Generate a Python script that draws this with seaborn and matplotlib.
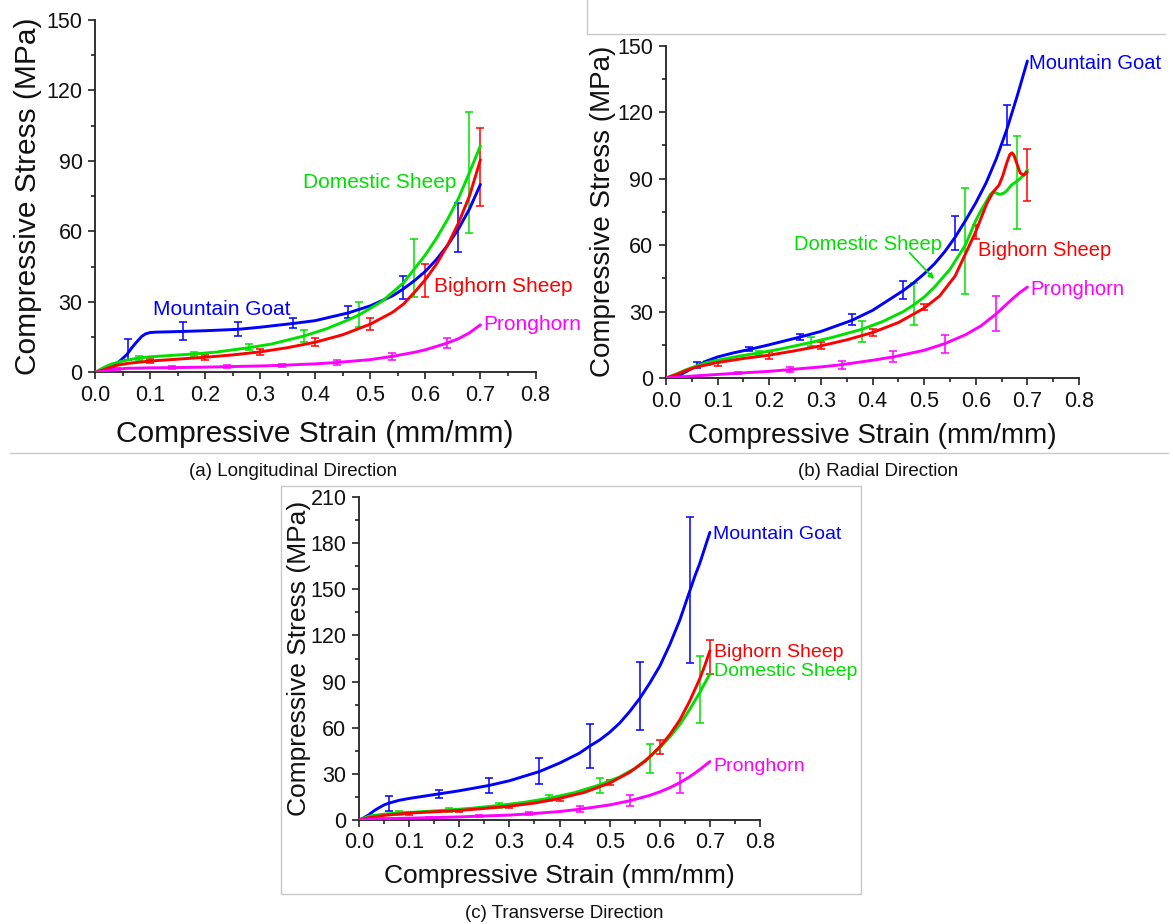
import numpy as np
import pandas as pd
import matplotlib
matplotlib.use("Agg")
import matplotlib.pyplot as plt
from matplotlib.lines import Line2D
from matplotlib.ticker import MultipleLocator, FormatStrFormatter
import seaborn as sns

sns.set_theme(style="ticks")
plt.rcParams['font.family'] = ['Liberation Sans', 'DejaVu Sans']
plt.rcParams['text.color'] = '#111111'
plt.rcParams['axes.labelcolor'] = '#111111'
plt.rcParams['xtick.color'] = '#111111'
plt.rcParams['ytick.color'] = '#111111'

species = ["Mountain Goat", "Domestic Sheep", "Bighorn Sheep", "Pronghorn"]
colors = {"Mountain Goat": "#0000FF", "Domestic Sheep": "#00E000",
          "Bighorn Sheep": "#FF0000", "Pronghorn": "#FF00FF"}

# ---------------- (a) Longitudinal ----------------
a_mg_x = [0.0, 0.015, 0.025, 0.036, 0.047, 0.058, 0.067, 0.076, 0.085, 0.092, 0.1, 0.11, 0.13, 0.16, 0.2, 0.26, 0.3, 0.36, 0.4, 0.46, 0.5, 0.54, 0.56, 0.58, 0.6, 0.62, 0.64, 0.66, 0.68, 0.70]
a_mg_y = [0.0, 0.0, 0.8, 3.1, 5.2, 7.6, 10.5, 13.0, 15.3, 16.4, 16.9, 17.1, 17.2, 17.4, 17.7, 18.3, 19.2, 20.8, 22.0, 25.3, 28.3, 32.5, 35.5, 39.0, 43.0, 48.0, 54.0, 61.0, 69.5, 80.0]
a_ds_x = [0.0, 0.01, 0.02, 0.03, 0.045, 0.06, 0.08, 0.1, 0.14, 0.18, 0.22, 0.28, 0.32, 0.38, 0.42, 0.46, 0.48, 0.52, 0.56, 0.58, 0.6, 0.62, 0.64, 0.66, 0.68, 0.70]
a_ds_y = [0.0, 1.3, 2.5, 3.5, 4.5, 5.3, 6.1, 6.6, 7.2, 7.8, 8.6, 10.5, 12.0, 15.5, 18.5, 22.3, 24.5, 30.0, 38.0, 44.0, 50.0, 57.0, 65.0, 74.0, 85.0, 96.5]
a_bs_x = [0.0, 0.01, 0.02, 0.03, 0.04, 0.06, 0.08, 0.1, 0.15, 0.2, 0.25, 0.3, 0.35, 0.4, 0.45, 0.5, 0.54, 0.56, 0.58, 0.6, 0.62, 0.64, 0.66, 0.68, 0.70]
a_bs_y = [0.0, 0.6, 1.5, 2.3, 3.0, 3.8, 4.3, 4.8, 5.6, 6.4, 7.4, 8.7, 10.5, 12.8, 16.0, 20.5, 25.5, 29.0, 34.0, 39.5, 46.0, 54.0, 63.5, 75.0, 90.5]
a_ph_x = [0.0, 0.02, 0.04, 0.06, 0.1, 0.14, 0.2, 0.24, 0.3, 0.34, 0.4, 0.44, 0.5, 0.54, 0.58, 0.6, 0.62, 0.64, 0.66, 0.68, 0.70]
a_ph_y = [0.0, 0.6, 1.4, 1.7, 1.9, 2.0, 2.2, 2.4, 2.7, 3.0, 3.6, 4.2, 5.4, 6.8, 8.5, 9.6, 11.0, 12.5, 14.3, 16.8, 20.2]

a_mg_ex = [0.06, 0.16, 0.26, 0.36, 0.46, 0.56, 0.66]
a_mg_ey = [9.6, 17.5, 18.4, 21.0, 25.6, 36.0, 61.5]
a_mg_ee = [4.5, 3.9, 2.9, 2.3, 2.6, 4.9, 10.4]
a_ds_ex = [0.08, 0.18, 0.28, 0.38, 0.48, 0.58, 0.68]
a_ds_ey = [6.1, 7.8, 10.8, 15.6, 24.7, 44.4, 85.0]
a_ds_ee = [0.8, 0.8, 1.3, 2.5, 5.2, 12.2, 25.8]
a_bs_ex = [0.1, 0.2, 0.3, 0.4, 0.5, 0.6, 0.7]
a_bs_ey = [4.8, 6.4, 8.7, 12.8, 20.5, 39.0, 87.4]
a_bs_ee = [0.9, 1.0, 1.2, 1.8, 2.5, 6.9, 16.6]
a_ph_ex = [0.04, 0.14, 0.24, 0.34, 0.44, 0.54, 0.64]
a_ph_ey = [1.5, 2.0, 2.3, 3.0, 4.2, 6.8, 12.4]
a_ph_ee = [0.5, 0.6, 0.6, 0.7, 1.0, 1.4, 2.0]

# ---------------- (b) Radial ----------------
b_mg_x = [0.0, 0.02, 0.04, 0.06, 0.08, 0.1, 0.13, 0.16, 0.2, 0.26, 0.3, 0.36, 0.4, 0.46, 0.48, 0.5, 0.52, 0.54, 0.56, 0.58, 0.6, 0.62, 0.64, 0.66, 0.68, 0.70]
b_mg_y = [0.0, 0.5, 3.0, 5.5, 7.8, 9.5, 11.3, 12.8, 15.0, 18.5, 21.0, 26.0, 30.5, 39.5, 43.0, 47.0, 51.5, 57.0, 63.5, 71.0, 79.0, 88.0, 99.0, 112.0, 127.0, 143.0]
b_ds_x = [0.0, 0.02, 0.04, 0.06, 0.08, 0.1, 0.14, 0.18, 0.22, 0.28, 0.32, 0.38, 0.42, 0.46, 0.48, 0.5, 0.52, 0.55, 0.58, 0.6, 0.61, 0.62, 0.628, 0.634, 0.641, 0.647, 0.655, 0.66, 0.669, 0.678, 0.686, 0.693, 0.70]
b_ds_y = [0.0, 1.8, 3.8, 5.5, 7.0, 8.0, 9.8, 11.3, 13.0, 16.0, 18.2, 22.0, 25.5, 30.0, 33.0, 36.5, 41.0, 49.0, 60.0, 71.0, 75.5, 79.5, 82.8, 84.0, 83.3, 82.8, 83.5, 84.5, 87.0, 88.5, 90.0, 91.5, 94.0]
b_bs_x = [0.0, 0.02, 0.04, 0.06, 0.08, 0.1, 0.15, 0.2, 0.25, 0.3, 0.35, 0.4, 0.45, 0.5, 0.53, 0.56, 0.58, 0.6, 0.61, 0.622, 0.634, 0.645, 0.652, 0.66, 0.666, 0.67, 0.674, 0.68, 0.686, 0.693, 0.70]
b_bs_y = [0.0, 1.5, 3.5, 5.0, 6.0, 7.0, 8.8, 10.3, 12.3, 14.5, 17.2, 20.5, 25.0, 31.5, 37.0, 46.0, 56.0, 66.0, 72.0, 79.0, 84.0, 87.0, 91.0, 97.0, 100.8, 101.6, 100.5, 96.5, 92.5, 91.5, 93.0]
b_ph_x = [0.0, 0.02, 0.06, 0.1, 0.14, 0.2, 0.24, 0.3, 0.34, 0.4, 0.44, 0.5, 0.54, 0.58, 0.61, 0.64, 0.67, 0.685, 0.70]
b_ph_y = [0.0, 0.4, 1.0, 1.6, 2.2, 3.0, 3.8, 5.0, 6.0, 8.0, 9.5, 12.5, 15.5, 19.5, 23.5, 29.0, 35.5, 38.5, 41.0]

b_mg_ex = [0.06, 0.16, 0.26, 0.36, 0.46, 0.56, 0.66]
b_mg_ey = [5.8, 13.0, 18.5, 26.4, 39.7, 65.4, 114.0]
b_mg_ee = [1.2, 0.8, 1.5, 2.5, 4.2, 7.8, 9.0]
b_ds_ex = [0.08, 0.18, 0.28, 0.38, 0.48, 0.58, 0.68]
b_ds_ey = [6.8, 11.3, 16.3, 21.0, 33.3, 61.8, 88.2]
b_ds_ee = [1.0, 1.0, 2.0, 4.7, 9.6, 23.7, 21.0]
b_bs_ex = [0.1, 0.2, 0.3, 0.4, 0.5, 0.6, 0.7]
b_bs_ey = [6.8, 10.2, 14.6, 20.5, 32.0, 65.8, 91.5]
b_bs_ee = [1.5, 1.5, 1.5, 1.5, 1.5, 3.3, 11.7]
b_ph_ex = [0.14, 0.24, 0.34, 0.44, 0.54, 0.64]
b_ph_ey = [2.2, 3.9, 6.0, 9.5, 15.5, 29.0]
b_ph_ee = [0.4, 1.0, 1.8, 2.5, 4.0, 8.0]

# ---------------- (c) Transverse ----------------
c_mg_x = [0.0, 0.01, 0.02, 0.03, 0.04, 0.05, 0.06, 0.08, 0.1, 0.13, 0.16, 0.2, 0.26, 0.3, 0.36, 0.4, 0.44, 0.46, 0.48, 0.5, 0.52, 0.54, 0.56, 0.58, 0.6, 0.62, 0.64, 0.66, 0.67, 0.68, 0.69, 0.70]
c_mg_y = [0.0, 1.5, 3.5, 6.0, 8.0, 9.8, 11.0, 12.8, 14.0, 15.5, 17.0, 19.0, 22.5, 25.5, 31.5, 37.0, 43.5, 48.0, 52.0, 57.0, 63.0, 70.5, 79.0, 89.0, 100.0, 114.0, 130.0, 149.0, 158.5, 167.0, 177.0, 187.0]
c_bs_x = [0.0, 0.02, 0.05, 0.1, 0.15, 0.2, 0.25, 0.3, 0.35, 0.4, 0.45, 0.5, 0.54, 0.57, 0.6, 0.62, 0.64, 0.66, 0.68, 0.69, 0.70]
c_bs_y = [0.0, 1.5, 3.0, 4.5, 5.3, 6.2, 7.5, 9.0, 11.0, 14.0, 18.0, 24.0, 31.0, 38.0, 47.5, 55.5, 65.0, 77.5, 92.0, 100.5, 110.0]
c_ds_x = [0.0, 0.02, 0.05, 0.08, 0.12, 0.18, 0.23, 0.28, 0.33, 0.38, 0.43, 0.48, 0.52, 0.55, 0.58, 0.6, 0.62, 0.64, 0.66, 0.68, 0.70]
c_ds_y = [0.0, 2.5, 3.8, 4.6, 5.3, 6.5, 7.8, 9.5, 11.5, 14.2, 17.8, 22.8, 28.0, 33.5, 41.0, 47.0, 54.0, 62.0, 72.0, 83.0, 95.0]
c_ph_x = [0.0, 0.04, 0.1, 0.14, 0.2, 0.24, 0.3, 0.34, 0.4, 0.44, 0.5, 0.54, 0.58, 0.6, 0.62, 0.64, 0.66, 0.68, 0.70]
c_ph_y = [0.0, 0.8, 1.2, 1.5, 2.0, 2.5, 3.2, 4.0, 5.5, 7.0, 9.8, 12.5, 16.0, 18.3, 21.0, 24.3, 28.2, 32.8, 38.0]

c_mg_ex = [0.06, 0.16, 0.26, 0.36, 0.46, 0.56, 0.66]
c_mg_ey = [10.6, 17.0, 22.5, 32.0, 48.3, 80.7, 149.6]
c_mg_ee = [5.0, 2.7, 5.0, 8.3, 14.3, 22.0, 47.5]
c_ds_ex = [0.08, 0.18, 0.28, 0.38, 0.48, 0.58, 0.68]
c_ds_ey = [4.5, 6.5, 9.5, 14.5, 22.5, 40.0, 84.8]
c_ds_ee = [1.5, 1.5, 1.5, 2.0, 4.7, 9.7, 21.8]
c_bs_ex = [0.1, 0.2, 0.3, 0.4, 0.5, 0.6, 0.7]
c_bs_ey = [4.5, 6.0, 9.0, 14.0, 24.5, 47.3, 106.2]
c_bs_ee = [1.0, 1.0, 1.0, 1.5, 1.5, 4.6, 11.1]
c_ph_ex = [0.14, 0.24, 0.34, 0.44, 0.54, 0.64]
c_ph_ey = [1.5, 2.5, 4.0, 7.0, 12.5, 24.3]
c_ph_ee = [0.4, 0.5, 1.0, 2.0, 3.5, 6.5]

x_label = "Compressive Strain (mm/mm)"
y_label = "Compressive Stress (MPa)"
captions = ["(a) Longitudinal Direction", "(b) Radial Direction", "(c) Transverse Direction"]

W, H = 1173, 924
fig = plt.figure(figsize=(W / 100, H / 100), dpi=100)


def px_axes(x0, x1, y_top, y_bot):
    return fig.add_axes([x0 / W, 1 - y_bot / H, (x1 - x0) / W, (y_bot - y_top) / H])


panels = [
    dict(box=(95, 535.5, 20, 372.3), ymax=150, ystep=30, lab_fs=21.5, ann_fs=15,
         curves={"Mountain Goat": (a_mg_x, a_mg_y, a_mg_ex, a_mg_ey, a_mg_ee),
                 "Domestic Sheep": (a_ds_x, a_ds_y, a_ds_ex, a_ds_ey, a_ds_ee),
                 "Bighorn Sheep": (a_bs_x, a_bs_y, a_bs_ex, a_bs_ey, a_bs_ee),
                 "Pronghorn": (a_ph_x, a_ph_y, a_ph_ex, a_ph_ey, a_ph_ee)},
         labels={"Domestic Sheep": (0.378, 81), "Bighorn Sheep": (0.615, 36.5),
                 "Mountain Goat": (0.105, 26.6), "Pronghorn": (0.706, 20.2)}),
    dict(box=(666, 1079, 45.5, 378), ymax=150, ystep=30, lab_fs=20, ann_fs=14.5,
         curves={"Mountain Goat": (b_mg_x, b_mg_y, b_mg_ex, b_mg_ey, b_mg_ee),
                 "Domestic Sheep": (b_ds_x, b_ds_y, b_ds_ex, b_ds_ey, b_ds_ee),
                 "Bighorn Sheep": (b_bs_x, b_bs_y, b_bs_ex, b_bs_ey, b_bs_ee),
                 "Pronghorn": (b_ph_x, b_ph_y, b_ph_ex, b_ph_ey, b_ph_ee)},
         labels={"Mountain Goat": (0.703, 142), "Domestic Sheep": (0.247, 60.4),
                 "Bighorn Sheep": (0.605, 57.4), "Pronghorn": (0.706, 40)}),
    dict(box=(359, 760, 497, 820), ymax=210, ystep=30, lab_fs=19, ann_fs=14,
         curves={"Mountain Goat": (c_mg_x, c_mg_y, c_mg_ex, c_mg_ey, c_mg_ee),
                 "Domestic Sheep": (c_ds_x, c_ds_y, c_ds_ex, c_ds_ey, c_ds_ee),
                 "Bighorn Sheep": (c_bs_x, c_bs_y, c_bs_ex, c_bs_ey, c_bs_ee),
                 "Pronghorn": (c_ph_x, c_ph_y, c_ph_ex, c_ph_ey, c_ph_ee)},
         labels={"Mountain Goat": (0.706, 185.7), "Bighorn Sheep": (0.708, 109),
                 "Domestic Sheep": (0.708, 96.7), "Pronghorn": (0.706, 35)}),
]

for i, p in enumerate(panels):
    ax = px_axes(*p["box"])
    for sp in species:
        cx, cy, ex, ey, ee = p["curves"][sp]
        df = pd.DataFrame({"strain": cx, "stress": cy})
        line_ax = sns.lineplot(data=df, x="strain", y="stress", color=colors[sp], lw=2.1,
                               sort=False, estimator=None, ax=ax, zorder=3)
        line_ax.lines[-1].set_solid_joinstyle("round")
        ax.errorbar(ex, ey, yerr=ee, fmt="none", ecolor=colors[sp], elinewidth=1.1,
                    capsize=2.8, capthick=1.1, zorder=2)
    for sp, (tx, ty) in p["labels"].items():
        ax.text(tx, ty, sp, color=colors[sp], fontsize=p["ann_fs"], ha="left", va="center",
                zorder=4)
    if i == 1:
        ax.annotate("", xy=(0.523, 43.7), xytext=(0.468, 57.5),
                    arrowprops=dict(arrowstyle="-|>", color=colors["Domestic Sheep"],
                                    lw=1.2, mutation_scale=8))
    ax.set_xlim(0, 0.8)
    ax.set_ylim(0, p["ymax"])
    ax.xaxis.set_major_locator(MultipleLocator(0.1))
    ax.xaxis.set_minor_locator(MultipleLocator(0.05))
    ax.yaxis.set_major_locator(MultipleLocator(p["ystep"]))
    ax.yaxis.set_minor_locator(MultipleLocator(p["ystep"] / 2))
    ax.xaxis.set_major_formatter(FormatStrFormatter("%.1f"))
    ax.tick_params(which="major", length=5, width=1.2, labelsize=15.5, color="#222222",
                   labelcolor="#111111", pad=4, direction="out")
    ax.tick_params(which="minor", length=3, width=1.2, color="#222222", direction="out")
    for s in ["top", "right"]:
        ax.spines[s].set_visible(False)
    for s in ["left", "bottom"]:
        ax.spines[s].set_linewidth(1.3)
        ax.spines[s].set_color("#222222")
    ax.set_xlabel(x_label, fontsize=p["lab_fs"], color="#111111")
    ax.set_ylabel(y_label, fontsize=p["lab_fs"], color="#111111")
    ax.xaxis.set_label_coords(0.5, -0.135)
    ax.yaxis.set_label_coords(-0.12, 0.5)
    ax.patch.set_alpha(0)

# captions
cap_pos = [(293, 472), (878, 472), (564, 913)]
for txt, (cx, cy) in zip(captions, cap_pos):
    fig.text(cx / W, 1 - cy / H, txt, fontsize=13.5, ha="center", va="center",
             color="#111111")

# light frame lines
gray = "#C8C8C8"
def px_line(xs, ys):
    fig.add_artist(Line2D([x / W for x in xs], [1 - y / H for y in ys],
                          color=gray, lw=1.0, transform=fig.transFigure))

px_line([10, 1168], [453, 453])
px_line([587, 587], [0, 34])
px_line([587, 1165], [34, 34])
px_line([281, 861, 861, 281, 281], [486, 486, 894, 894, 486])

fig.savefig("out.png", dpi=100)
